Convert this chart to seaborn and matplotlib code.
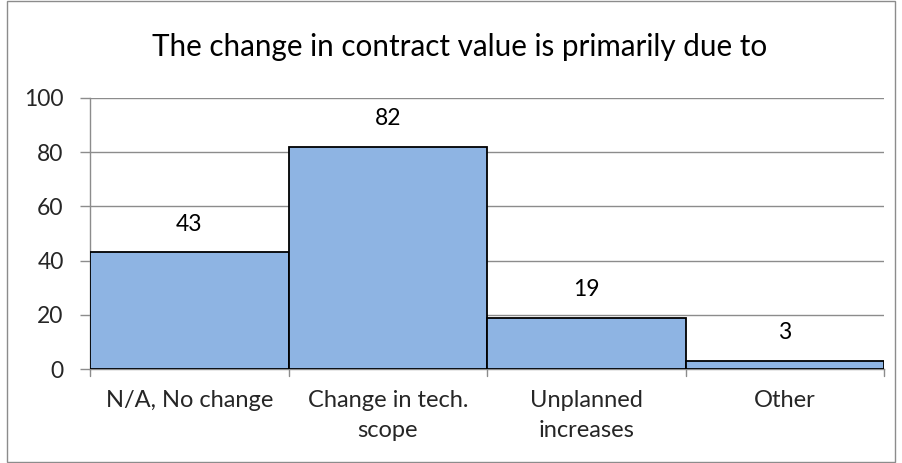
import matplotlib
matplotlib.use("Agg")
import matplotlib.pyplot as plt
import seaborn as sns
import pandas as pd
from matplotlib.patches import Rectangle

categories = ["N/A, No change", "Change in tech.\nscope", "Unplanned\nincreases", "Other"]
values = [43, 82, 19, 3]
yticks = [0, 20, 40, 60, 80, 100]
title = "The change in contract value is primarily due to"

sns.set_theme(style="white")
plt.rcParams['font.family'] = ['Lato', 'DejaVu Sans']

df = pd.DataFrame({"cat": categories, "val": values})

fig = plt.figure(figsize=(9.02, 4.63), dpi=100)
ax = fig.add_axes([90/902, 1-369/463, (884-90)/902, (369-98)/463])

sns.barplot(data=df, x="cat", y="val", ax=ax, color="#8EB4E3", saturation=1,
            width=1.0, edgecolor="black", linewidth=1.3, zorder=3)

ax.set_xlim(-0.5, len(categories)-0.5)
ax.set_ylim(0, 100)
ax.set_yticks(yticks)
ax.set_yticklabels([str(t) for t in yticks], fontsize=16.5)
ax.yaxis.grid(True, color="#8C8C8C", linewidth=1.0, zorder=0)
ax.set_axisbelow(True)
ax.set_xlabel("")
ax.set_ylabel("")
ax.set_xticks(range(len(categories)))
ax.set_xticklabels(categories, fontsize=17, linespacing=1.55)
ax.tick_params(axis="x", length=0, pad=15)
ax.tick_params(axis="y", length=7, color="#8C8C8C", width=1, direction="out", left=True, pad=12)

# category boundary ticks
for b in [i - 0.5 for i in range(len(categories)+1)]:
    ax.plot([b, b], [0, -2.5], color="#8C8C8C", lw=1, clip_on=False, zorder=1)

for s in ["top", "right"]:
    ax.spines[s].set_visible(False)
ax.spines["left"].set_color("#8C8C8C")
ax.spines["bottom"].set_color("#8C8C8C")
ax.spines["left"].set_linewidth(1)
ax.spines["bottom"].set_linewidth(1)

for i, v in enumerate(values):
    ax.text(i, v + 10.5, str(v), ha="center", va="center", fontsize=16.5, color="black")

fig.text(460/902, 1-47/463, title, ha="center", va="center", fontsize=21.3, color="black")

fig.patches.append(Rectangle((7/902, 0.002), (895-7)/902, 0.996, transform=fig.transFigure,
                             fill=False, edgecolor="#8C8C8C", linewidth=1))

fig.savefig("out.png", dpi=100)
